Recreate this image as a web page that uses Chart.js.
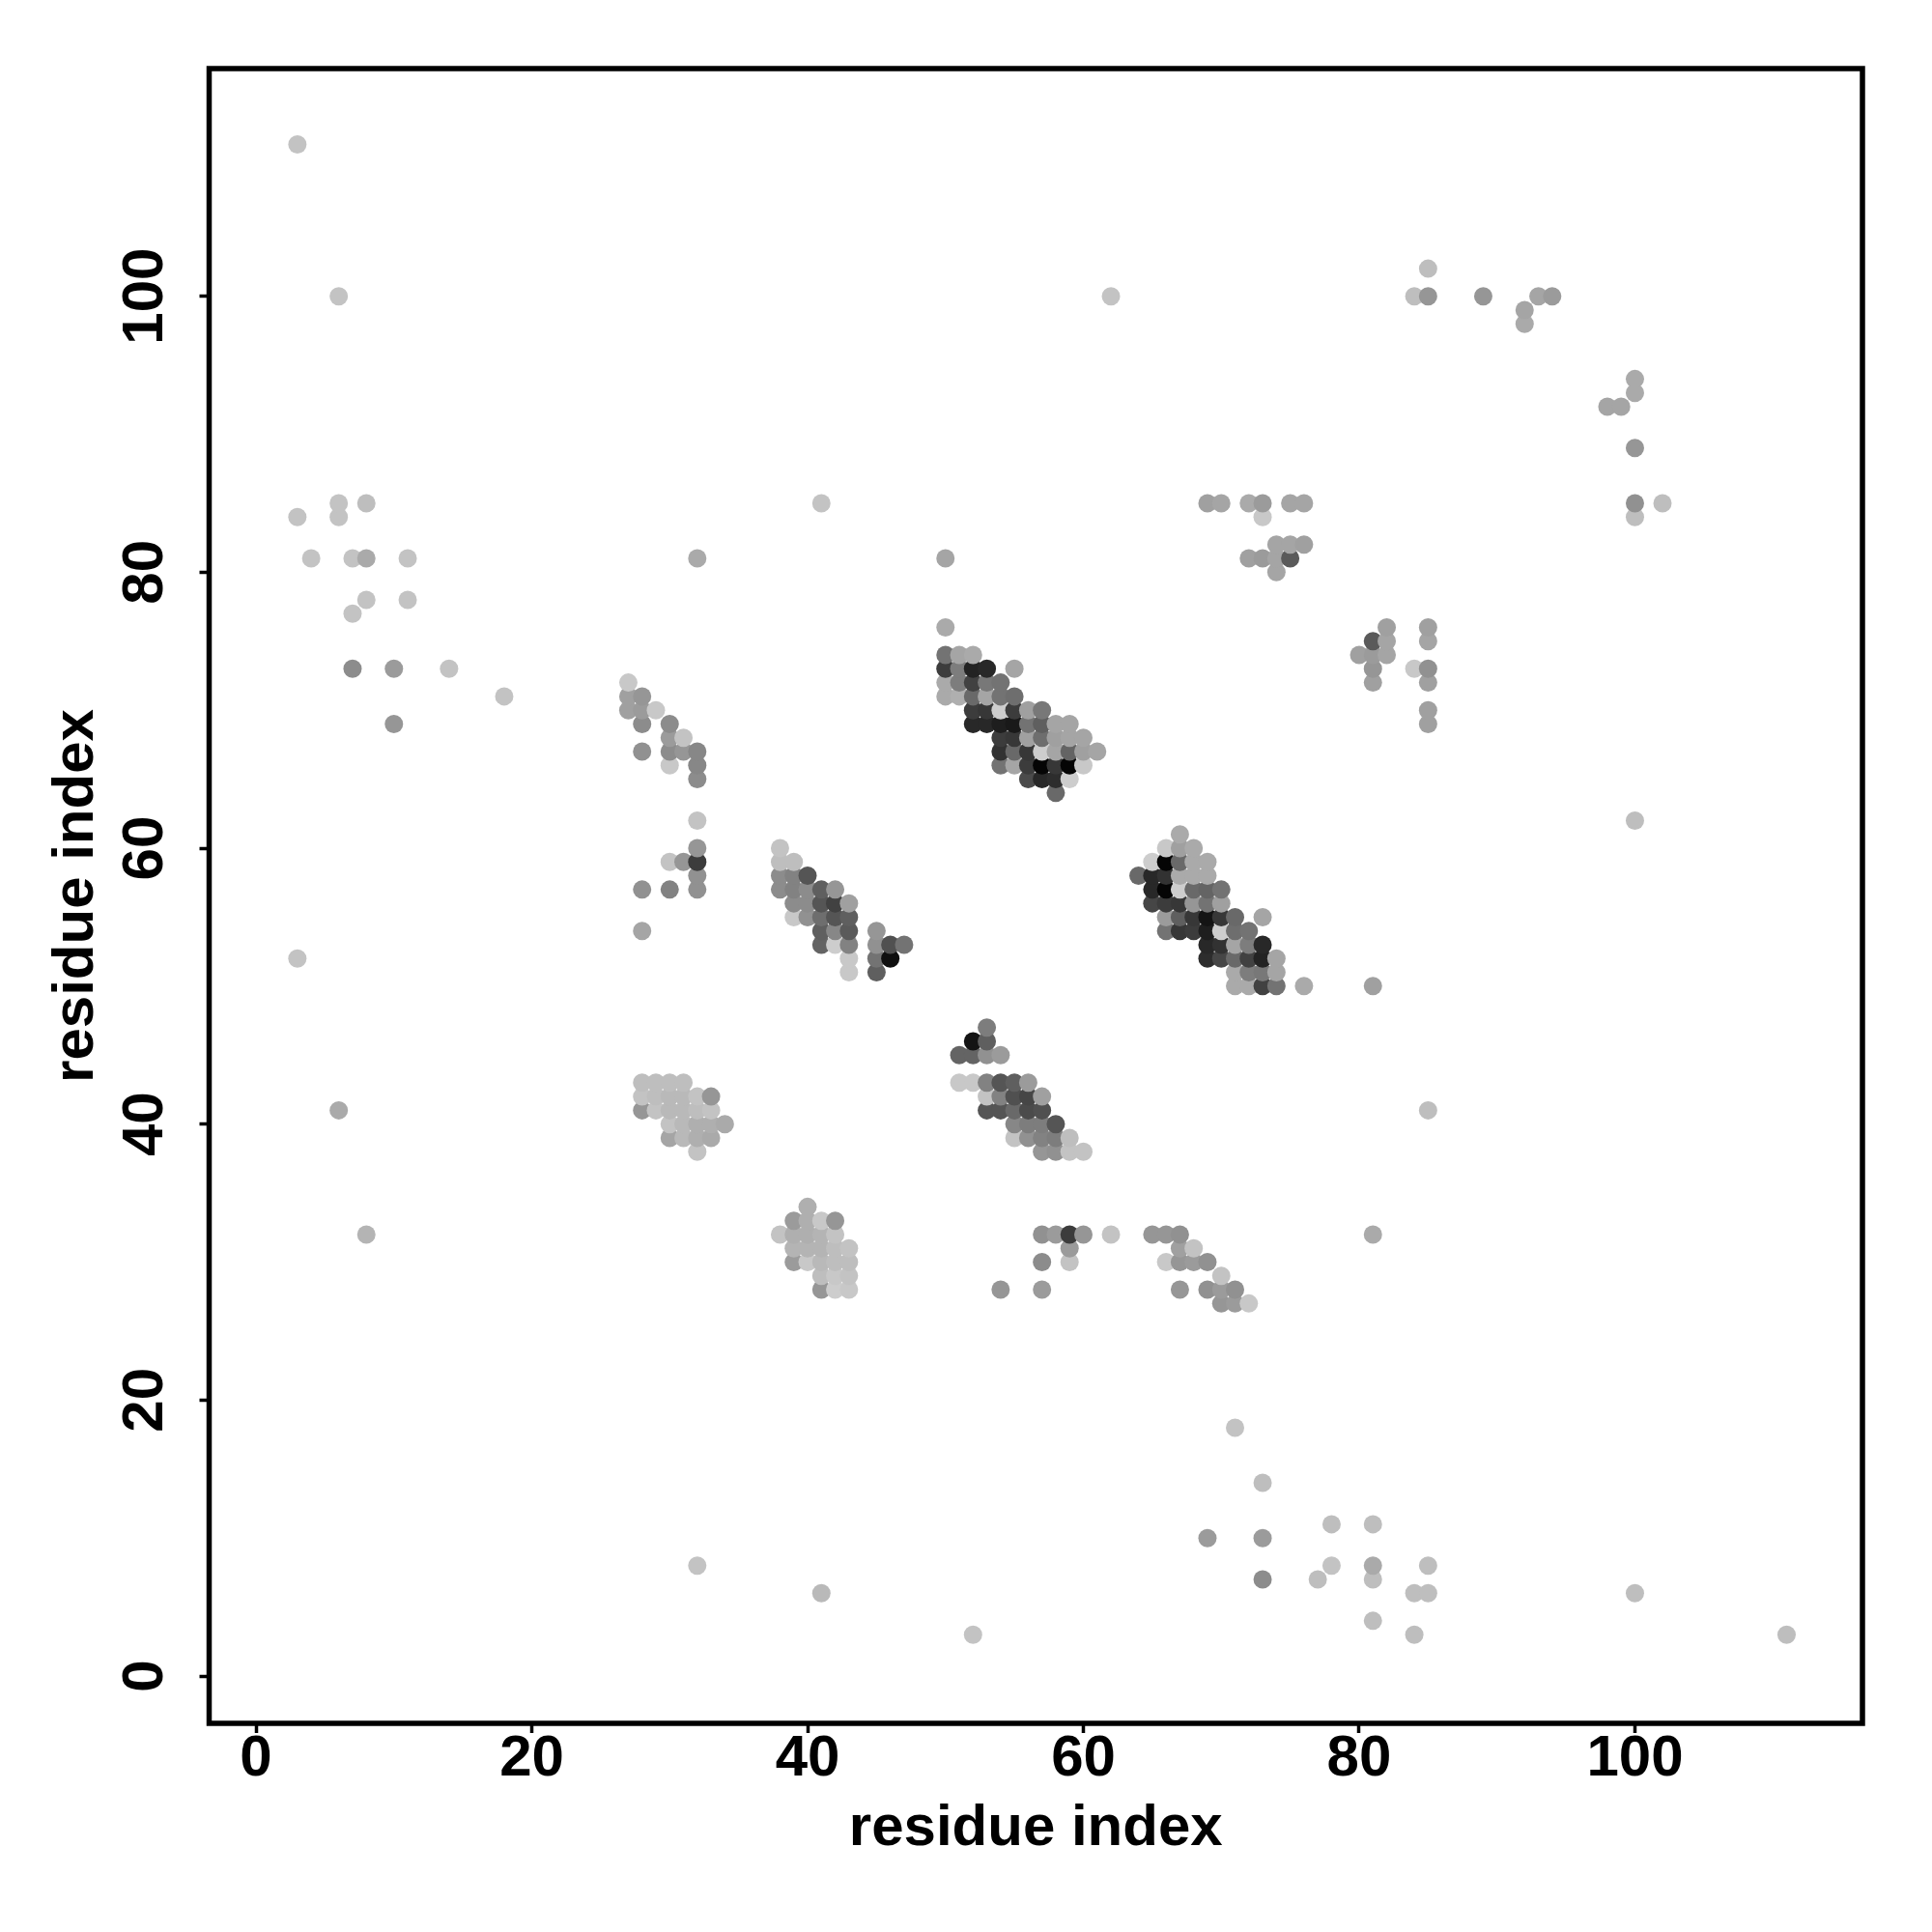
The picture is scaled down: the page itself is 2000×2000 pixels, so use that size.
<!DOCTYPE html>
<html>
<head>
<meta charset="utf-8">
<title>residue contacts</title>
<script src="https://cdn.jsdelivr.net/npm/chart.js@4"></script>
<style>
  body { margin: 0; background: #fff; }
  canvas { display: block; }
</style>
</head>
<body>
<canvas id="contactChart" width="2000" height="2000"></canvas>
<script>
const tickValues = [0, 20, 40, 60, 80, 100];

// one entry per row of the map: the y residue, then its x residues and their grey levels
const rowY = [111, 102, 100, 99, 98, 94, 93, 92, 89, 85, 84, 82, 81, 80, 78, 77, 76, 75, 74, 73, 72, 71, 70, 69, 68, 67, 66, 65, 64, 62, 61, 60, 59, 58, 57, 56, 55, 54, 53, 52, 51, 50, 47, 46, 45, 43, 42, 41, 40, 39, 38, 34, 33, 32, 31, 30, 29, 28, 27, 18, 14, 11, 10, 8, 7, 6, 4, 3];

const rowX = [
  [3],
  [85],
  [6, 62, 84, 85, 89, 93, 94],
  [92],
  [92],
  [100],
  [100],
  [98, 99],
  [100],
  [6, 8, 41, 69, 70, 72, 73, 75, 76, 100, 102],
  [3, 6, 73, 100],
  [74, 75, 76],
  [4, 7, 8, 11, 32, 50, 72, 73, 74, 75],
  [74],
  [8, 11],
  [7],
  [50, 82, 85],
  [81, 82, 85],
  [50, 51, 52, 80, 81, 82],
  [7, 10, 14, 50, 51, 52, 53, 55, 81, 84, 85],
  [27, 50, 51, 52, 53, 54, 81, 85],
  [18, 27, 28, 50, 51, 52, 53, 54, 55],
  [27, 28, 29, 52, 53, 54, 55, 56, 57, 85],
  [10, 28, 30, 52, 53, 54, 55, 56, 57, 58, 59, 85],
  [30, 31, 54, 55, 56, 57, 58, 59, 60],
  [28, 30, 31, 32, 54, 55, 56, 57, 58, 59, 60, 61],
  [30, 32, 54, 55, 56, 57, 58, 59, 60],
  [32, 56, 57, 58, 59],
  [58],
  [32, 100],
  [67],
  [32, 38, 66, 67, 68],
  [30, 31, 32, 38, 39, 65, 66, 67, 68, 69],
  [32, 38, 39, 40, 64, 65, 66, 67, 68, 69],
  [28, 30, 32, 38, 39, 40, 41, 42, 65, 66, 67, 68, 69, 70],
  [39, 40, 41, 42, 43, 65, 66, 67, 68, 69, 70],
  [39, 40, 41, 42, 43, 66, 67, 68, 69, 70, 71, 73],
  [28, 41, 42, 43, 45, 66, 67, 68, 69, 70, 71, 72],
  [41, 42, 43, 45, 46, 47, 69, 70, 71, 72, 73],
  [3, 43, 45, 46, 69, 70, 71, 72, 73, 74],
  [43, 45, 71, 72, 73, 74],
  [71, 72, 73, 74, 76, 81],
  [53],
  [52, 53],
  [51, 52, 53, 54],
  [28, 29, 30, 31, 51, 52, 53, 54, 55, 56],
  [28, 29, 30, 31, 32, 33, 53, 54, 55, 56, 57],
  [6, 28, 29, 30, 31, 32, 33, 53, 54, 55, 56, 57, 85],
  [30, 31, 32, 33, 34, 55, 56, 57, 58],
  [30, 31, 32, 33, 55, 56, 57, 58, 59],
  [32, 57, 58, 59, 60],
  [40],
  [39, 40, 41, 42],
  [8, 38, 39, 40, 41, 42, 57, 58, 59, 60, 62, 65, 66, 67, 81],
  [39, 40, 41, 42, 43, 59, 67, 68],
  [39, 40, 41, 42, 43, 57, 59, 66, 67, 68, 69],
  [41, 42, 43, 70],
  [41, 42, 43, 54, 57, 67, 69, 70, 71],
  [70, 71, 72],
  [71],
  [73],
  [78, 81],
  [69, 73],
  [32, 78, 81, 85],
  [73, 77, 81],
  [41, 84, 85, 100],
  [81],
  [52, 84, 111]
];

const rowGrey = [
  [195],
  [190],
  [195, 195, 190, 150, 150, 165, 155],
  [165],
  [170],
  [170],
  [170],
  [165, 165],
  [150],
  [195, 190, 195, 160, 165, 170, 155, 165, 165, 145, 190],
  [195, 195, 200, 190],
  [165, 165, 160],
  [195, 195, 170, 195, 170, 165, 160, 155, 165, 90],
  [165],
  [195, 195],
  [195],
  [170, 160, 160],
  [90, 165, 165],
  [115, 165, 170, 160, 155, 165],
  [140, 155, 195, 60, 125, 35, 40, 165, 150, 200, 145],
  [200, 170, 125, 65, 120, 115, 160, 160],
  [195, 160, 150, 170, 175, 105, 165, 115, 110],
  [160, 155, 200, 60, 55, 205, 60, 160, 120, 160],
  [150, 140, 140, 40, 40, 30, 25, 115, 95, 165, 165, 160],
  [155, 195, 60, 55, 160, 110, 160, 165, 165],
  [145, 140, 150, 135, 50, 105, 55, 205, 165, 100, 160, 165],
  [200, 135, 115, 165, 60, 5, 55, 5, 200],
  [140, 75, 40, 45, 205],
  [105],
  [195, 190],
  [170],
  [150, 195, 200, 160, 170],
  [195, 150, 60, 190, 190, 205, 5, 105, 170, 170],
  [145, 140, 130, 85, 105, 40, 50, 170, 170, 170],
  [145, 130, 145, 140, 130, 140, 95, 150, 40, 5, 205, 105, 100, 115],
  [140, 140, 85, 65, 160, 70, 60, 55, 150, 115, 160],
  [200, 145, 110, 85, 95, 155, 95, 55, 20, 55, 105, 165],
  [165, 95, 135, 90, 150, 115, 55, 60, 30, 205, 110, 115],
  [100, 205, 130, 145, 80, 115, 40, 50, 165, 125, 40],
  [195, 200, 115, 15, 45, 70, 105, 65, 35, 165],
  [200, 95, 170, 125, 120, 165],
  [170, 170, 65, 115, 170, 160],
  [125],
  [20, 95],
  [100, 100, 145, 155],
  [190, 190, 190, 190, 200, 200, 130, 85, 95, 155],
  [195, 190, 185, 185, 195, 150, 195, 130, 80, 70, 160],
  [170, 150, 195, 185, 185, 190, 195, 85, 85, 105, 75, 80, 190],
  [195, 185, 175, 175, 170, 135, 125, 125, 85],
  [165, 185, 175, 170, 195, 145, 130, 125, 190],
  [195, 150, 145, 195, 195],
  [175],
  [155, 175, 200, 150],
  [180, 195, 175, 175, 180, 195, 145, 155, 60, 150, 195, 150, 150, 145, 170],
  [180, 180, 180, 190, 195, 155, 160, 195],
  [155, 200, 185, 190, 190, 140, 195, 200, 150, 155, 145],
  [190, 200, 195, 195],
  [150, 205, 200, 150, 155, 150, 145, 155, 145],
  [150, 155, 200],
  [195],
  [190],
  [190, 190],
  [155, 155],
  [195, 195, 170, 190],
  [140, 190, 190],
  [185, 190, 190, 190],
  [190],
  [195, 190, 190]
];

// the original plots column by column, so later residues overlap earlier ones
const contacts = [];
rowY.forEach(function (y, i) {
  rowX[i].forEach(function (x, j) {
    contacts.push({ x: x, y: y, grey: rowGrey[i][j] });
  });
});
contacts.sort(function (a, b) { return a.x - b.x || a.y - b.y; });

const labelFont = { family: "'Liberation Sans'", size: 60, weight: "bold" };

const boxFrame = {
  id: "boxFrame",
  afterDatasetsDraw: function (chart) {
    const area = chart.chartArea;
    const ctx = chart.ctx;
    ctx.save();
    ctx.strokeStyle = "#000";
    ctx.lineWidth = 5.5;
    ctx.strokeRect(area.left, area.top, area.right - area.left, area.bottom - area.top);
    ctx.restore();
  },
};

function setTicks(axis) {
  axis.ticks = tickValues.map(function (v) { return { value: v }; });
}

new Chart(document.getElementById("contactChart").getContext("2d"), {
  type: "scatter",
  data: {
    datasets: [
      {
        label: "",
        data: contacts,
        pointRadius: 9.5,
        pointHoverRadius: 9.5,
        pointBorderWidth: 0,
        pointBackgroundColor: contacts.map(function (c) {
          return "rgb(" + c.grey + "," + c.grey + "," + c.grey + ")";
        }),
      },
    ],
  },
  options: {
    responsive: false,
    animation: false,
    events: [],
    layout: { padding: { top: 71, right: 72, left: 0, bottom: 0 } },
    plugins: {
      legend: { display: false },
      tooltip: { enabled: false },
    },
    scales: {
      x: {
        type: "linear",
        min: -3.4,
        max: 116.5,
        afterBuildTicks: setTicks,
        afterFit: function (axis) { axis.height = 216; },
        border: { display: false },
        grid: { drawOnChartArea: false, tickLength: 10, tickWidth: 3.5, tickColor: "#000" },
        ticks: { color: "#000", font: labelFont, padding: -9, maxRotation: 0, autoSkip: false },
        title: { display: true, text: "residue index", color: "#000", font: labelFont, padding: { top: 0, bottom: 71 } },
      },
      y: {
        type: "linear",
        min: -3.43,
        max: 116.5,
        afterBuildTicks: setTicks,
        afterFit: function (axis) { axis.width = 216.5; },
        border: { display: false },
        grid: { drawOnChartArea: false, tickLength: 10, tickWidth: 3.5, tickColor: "#000" },
        ticks: { color: "#000", font: labelFont, padding: 5, minRotation: 90, maxRotation: 90, crossAlign: "center", autoSkip: false },
        title: { display: true, text: "residue index", color: "#000", font: labelFont, padding: { top: 43, bottom: 0 } },
      },
    },
  },
  plugins: [boxFrame],
});
</script>
</body>
</html>
